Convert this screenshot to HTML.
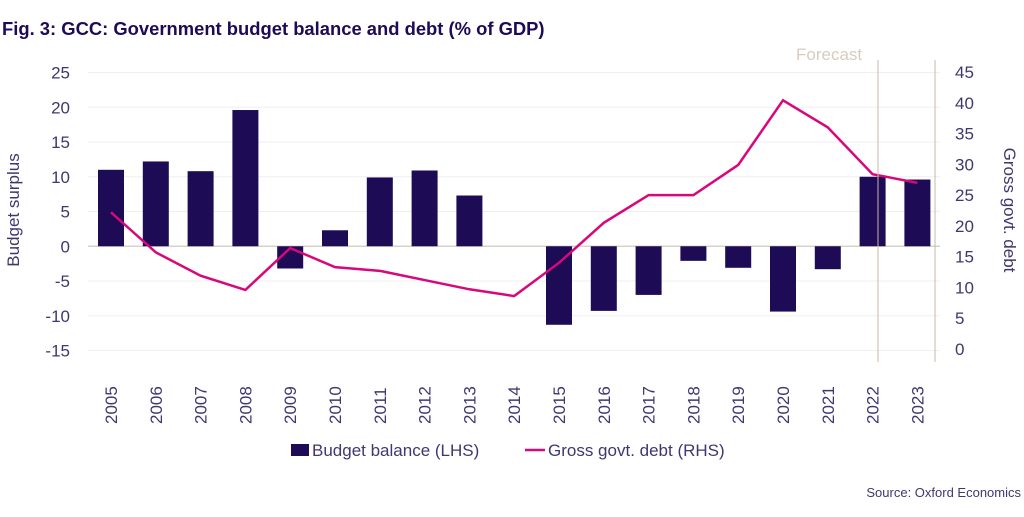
<!DOCTYPE html>
<html><head><meta charset="utf-8"><style>
body{margin:0;background:#fff;width:1024px;height:512px;overflow:hidden;font-family:"Liberation Sans",sans-serif}
text{font-family:"Liberation Sans",sans-serif}
</style></head><body>
<svg id="c" width="1024" height="512" xmlns="http://www.w3.org/2000/svg">
<text x="2" y="35" font-size="18.4" font-weight="bold" fill="#1e0b55">Fig. 3: GCC: Government budget balance and debt (% of GDP)</text>
<g id="grid"></g><g id="bars"></g><g id="line"></g><g id="axes"></g>
<text x="1021" y="497" font-size="13" fill="#3f3770" text-anchor="end">Source: Oxford Economics</text>
</svg>
<script>
const years=["2005","2006","2007","2008","2009","2010","2011","2012","2013","2014","2015","2016","2017","2018","2019","2020","2021","2022","2023"];
const balance=[11,12.2,10.8,19.6,-3.2,2.3,9.9,10.9,7.3,0,-11.3,-9.3,-7,-2.1,-3.1,-9.4,-3.3,10,9.6];
const debt=[22.2,15.7,11.9,9.6,16.4,13.3,12.7,11.2,9.7,8.6,14,20.5,25,25,29.9,40.4,36,28.4,27];
const leftTicks=[25,20,15,10,5,0,-5,-10,-15];
const rightTicks=[45,40,35,30,25,20,15,10,5,0];
const NS="http://www.w3.org/2000/svg";
function yL(v){return 72.5+(25-v)*6.95;}
function yRight(v){return 349-v*277/45;}
function x(i){return 111+i*44.8;}
function mk(p,t,a){const e=document.createElementNS(NS,t);for(const k in a)e.setAttribute(k,a[k]);document.getElementById(p).appendChild(e);return e;}
leftTicks.forEach(v=>{
 const l=mk('grid','line',{x1:88,x2:940,y1:yL(v),y2:yL(v),stroke:v===0?'#d8d2cc':'#f1eeee','stroke-width':v===0?1.5:1});
 
 
 const t=mk('axes','text',{x:70,y:yL(v)+6,'font-size':17,fill:'#3f3770','text-anchor':'end'});t.textContent=v;
 
 
});
rightTicks.forEach(v=>{
 const t=mk('axes','text',{x:955,y:yRight(v)+6,'font-size':17,fill:'#3f3770'});t.textContent=v;
 
 
});
years.forEach((y,i)=>{
 const t=mk('axes','text',{x:0,y:0,'font-size':17,fill:'#3f3770','text-anchor':'start',transform:`translate(${x(i)+6},${424}) rotate(-90)`});t.textContent=y;
 
 
});
balance.forEach((v,i)=>{
 const y0=yL(0),y1=yL(v);
 const r=mk('bars','rect',{x:x(i)-13,y:Math.min(y0,y1),width:26,height:Math.abs(y1-y0),fill:'#1e0b55'});
 
 
});
const pl=mk('line','polyline',{points:debt.map((v,i)=>x(i)+','+yRight(v)).join(' '),fill:'none',stroke:'#d6087b','stroke-width':2.5});


[878,935].forEach(xx=>{const l=mk('axes','line',{x1:xx,x2:xx,y1:60,y2:362,stroke:'#c8b8a8','stroke-width':1});
 
 });
let t=mk('axes','text',{x:796,y:60,'font-size':17,fill:'#d8ccc0'});t.textContent='Forecast';


t=mk('axes','text',{x:0,y:0,'font-size':17,fill:'#3f3770','text-anchor':'middle',transform:'translate(19,210) rotate(-90)'});t.textContent='Budget surplus';


t=mk('axes','text',{x:0,y:0,'font-size':17,fill:'#3f3770','text-anchor':'middle',transform:'translate(1004,210) rotate(90)'});t.textContent='Gross govt. debt';


let r=mk('axes','rect',{x:291,y:444,width:18,height:12,fill:'#1e0b55'});


t=mk('axes','text',{x:312,y:456,'font-size':17,fill:'#3f3770'});t.textContent='Budget balance (LHS)';


r=mk('axes','line',{x1:525,x2:545,y1:450,y2:450,stroke:'#d6087b','stroke-width':2.5});


t=mk('axes','text',{x:548,y:456,'font-size':17,fill:'#3f3770'});t.textContent='Gross govt. debt (RHS)';


</script>
</body></html>
